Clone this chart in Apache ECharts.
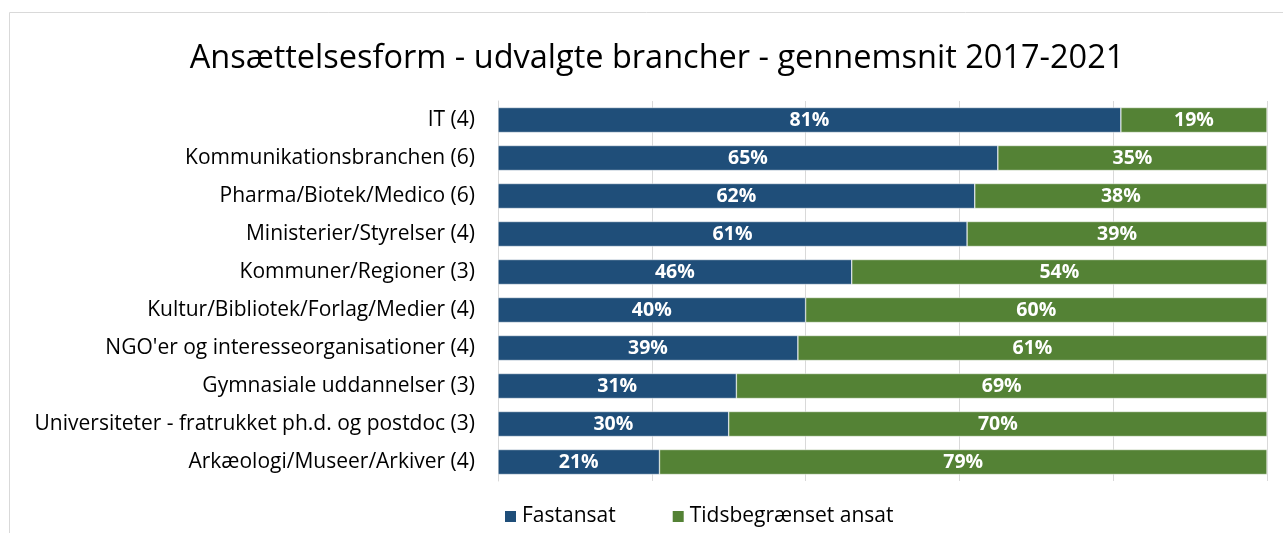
<!DOCTYPE html>
<html><head><meta charset="utf-8">
<script src="https://cdn.jsdelivr.net/npm/echarts@6/dist/echarts.min.js"></script>
<style>html,body{margin:0;padding:0;background:#fff}#c{width:1283px;height:533px}</style>
</head><body><div id="c"></div>
<script>
const categories = ["IT (4)","Kommunikationsbranchen (6)","Pharma/Biotek/Medico (6)","Ministerier/Styrelser (4)","Kommuner/Regioner (3)","Kultur/Bibliotek/Forlag/Medier (4)","NGO'er og interesseorganisationer (4)","Gymnasiale uddannelser (3)","Universiteter - fratrukket ph.d. og postdoc (3)","Arkæologi/Museer/Arkiver (4)"];
const fastansat = [81,65,62,61,46,40,39,31,30,21];
const tidsbegraenset = [19,35,38,39,54,60,61,69,70,79];
const seriesNames = ["Fastansat","Tidsbegrænset ansat"];
const titleText = "Ansættelsesform - udvalgte brancher - gennemsnit 2017-2021";

const font = "Open Sans";
const chart = echarts.init(document.getElementById('c'), null, {renderer:'canvas'});
const lbl = {show:true, position:'inside', color:'#fff', fontWeight:'bold', fontSize:19.5, fontFamily:font, formatter: p => p.value + '%'};
chart.setOption({
  animation:false,
  graphic:[{type:'rect', shape:{x:9.5,y:12.5,width:1290,height:530}, style:{fill:'none', stroke:'#d9d9d9', lineWidth:1}}],
  title:{text:titleText, left:652, textAlign:'center', top:37, textStyle:{fontFamily:font, fontSize:32.5, fontWeight:'normal', color:'#000'}},
  legend:{left:498, top:501, itemWidth:13, itemHeight:13, itemGap:55, icon:'rect', textStyle:{fontFamily:font, fontSize:21, color:'#000'}, data:seriesNames},
  grid:{left:498, right:16, top:101, bottom:52, containLabel:false},
  xAxis:{type:'value', min:0, max:100, interval:20, axisLabel:{show:false}, axisLine:{show:false}, axisTick:{show:false}, splitLine:{lineStyle:{color:'#d9d9d9', width:1}}},
  yAxis:{type:'category', inverse:true, data:categories, axisTick:{show:false}, axisLine:{lineStyle:{color:'#d9d9d9'}}, axisLabel:{fontFamily:font, fontSize:21, color:'#000', margin:23}},
  series:[
    {name:seriesNames[0], type:'bar', stack:'a', data:fastansat, barWidth:25, itemStyle:{color:'#1F4E79', borderColor:'#fff', borderWidth:0.5}, label:lbl},
    {name:seriesNames[1], type:'bar', stack:'a', data:tidsbegraenset, barWidth:25, itemStyle:{color:'#548235', borderColor:'#fff', borderWidth:0.5}, label:lbl}
  ]
});
</script></body></html>
